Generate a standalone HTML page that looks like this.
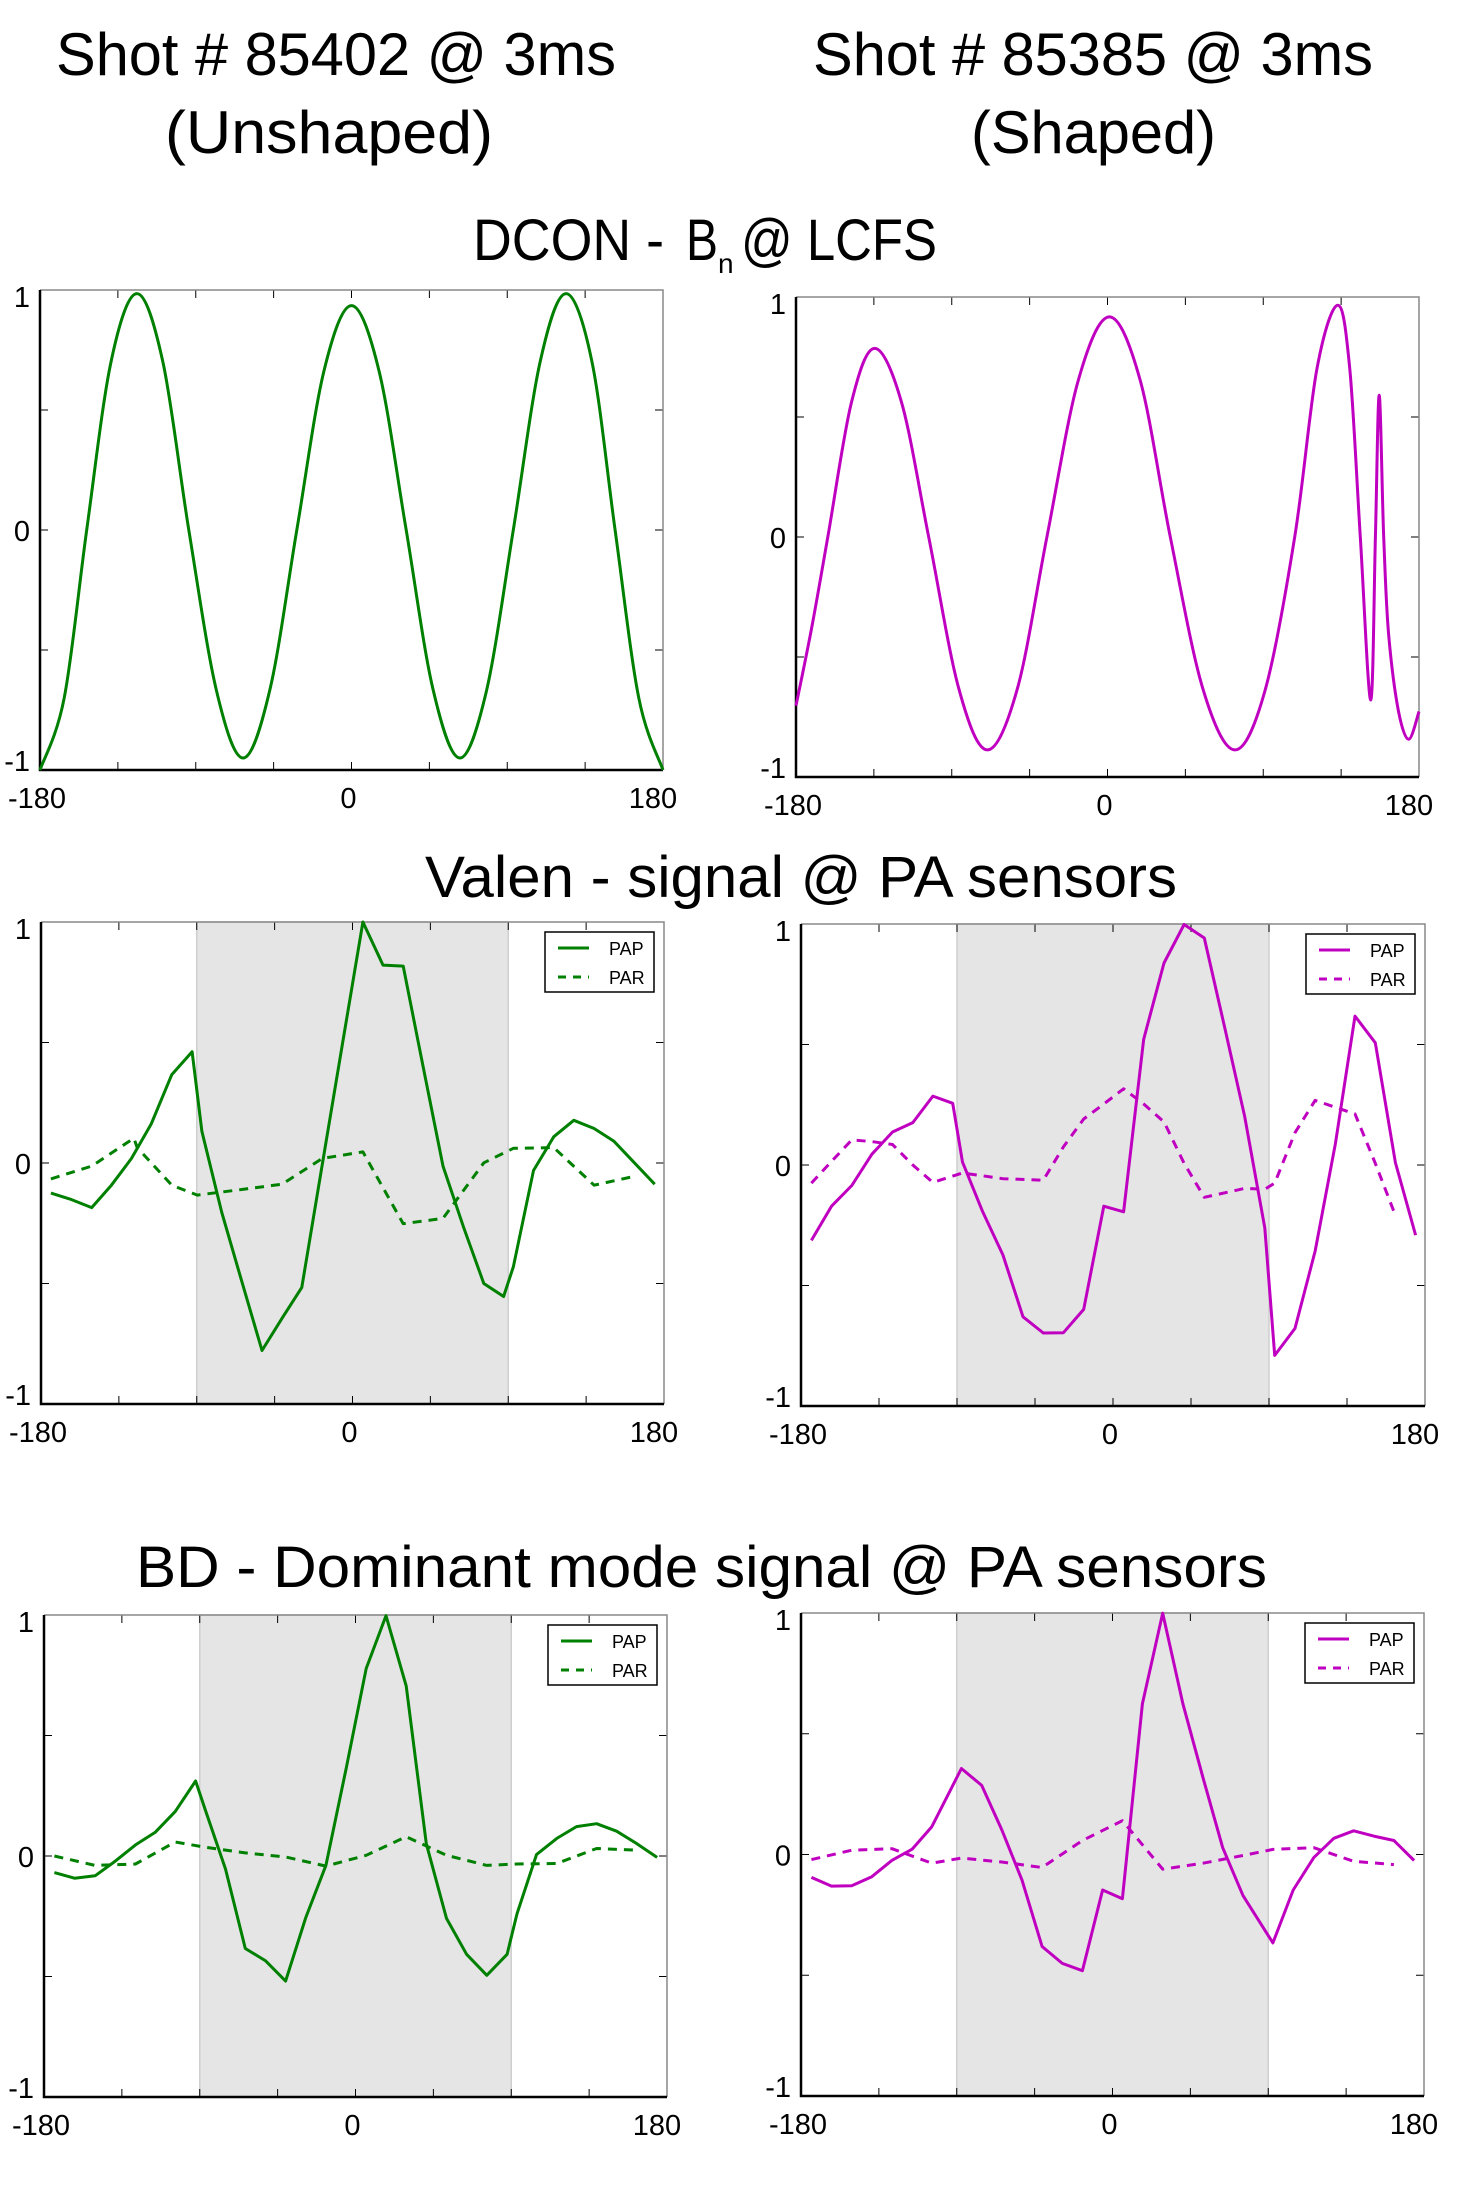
<!DOCTYPE html>
<html><head><meta charset="utf-8"><style>
html,body{margin:0;padding:0;background:#fff;}
svg{display:block;font-family:"Liberation Sans",sans-serif;}
</style></head><body>
<svg id="fig" width="1464" height="2188" viewBox="0 0 1464 2188" xmlns="http://www.w3.org/2000/svg">
<g fill="#000">
<text x="56" y="75" font-size="60" textLength="560" lengthAdjust="spacingAndGlyphs">Shot # 85402 @ 3ms</text>
<text x="165" y="153" font-size="60" textLength="328" lengthAdjust="spacingAndGlyphs">(Unshaped)</text>
<text x="813" y="75" font-size="60" textLength="560" lengthAdjust="spacingAndGlyphs">Shot # 85385 @ 3ms</text>
<text x="971" y="153" font-size="60" textLength="245" lengthAdjust="spacingAndGlyphs">(Shaped)</text>
<text x="473" y="260" font-size="58" textLength="191" lengthAdjust="spacingAndGlyphs">DCON -</text>
<text x="686" y="260" font-size="58" textLength="32" lengthAdjust="spacingAndGlyphs">B</text>
<text x="718" y="273" font-size="28">n</text>
<text x="741" y="260" font-size="58" textLength="196" lengthAdjust="spacingAndGlyphs">@ LCFS</text>
<text x="425" y="897" font-size="58" textLength="752" lengthAdjust="spacingAndGlyphs">Valen -  signal @ PA sensors</text>
<text x="136" y="1587" font-size="58" textLength="1131" lengthAdjust="spacingAndGlyphs">BD - Dominant mode signal @ PA sensors</text>
</g>
</svg>
<script>
// ---------- data ----------
const xTickLabels = ["-180","0","180"];
const yTickLabels = ["1","0","-1"];
const legendLabels = ["PAP","PAR"];

// DCON Bn @ LCFS, unshaped (green)
const dconUnshapedAngle = [-180,-166,-153,-139,-124,-109,-94,-78,-62.5,-47,-31.6,-16,0,16,31.6,47,62.5,78,93.5,109,124,139,152.3,166,180];
const dconUnshapedValue = [-1,-0.7,0,0.7,0.985,0.7,0,-0.67,-0.95,-0.66,0,0.66,0.935,0.66,0,-0.66,-0.95,-0.67,0,0.7,0.985,0.7,0,-0.7,-1];
// DCON Bn @ LCFS, shaped (magenta)
const dconShapedAngle = [-180,-171,-161.6,-148,-134.5,-119,-103.3,-86,-69.4,-52,-35,-17,1.1,19,36.3,55,73.5,91,108.2,121,133.1,140,146.1,152.1,154.8,157,159.6,162.4,168,174,180];
const dconShapedValue = [-0.703,-0.38,0,0.56,0.786,0.56,0,-0.63,-0.887,-0.63,0,0.65,0.917,0.65,0,-0.63,-0.887,-0.64,0,0.7,0.966,0.7,0,-0.679,0,0.591,0,-0.4,-0.72,-0.843,-0.727];

// Valen, unshaped
const valenUPapAngle = [-174.3,-162.4,-150.7,-139.3,-127.7,-116.3,-104.4,-92.7,-87,-75.6,-64,-52.3,-40.7,-29.3,-17.4,-5.7,6,17.6,29.3,40.7,52.3,64.2,75.9,87.3,93,104.6,116.3,127.9,139.6,151,162.9,174.6];
const valenUPapValue = [-0.125,-0.152,-0.185,-0.092,0.019,0.162,0.367,0.462,0.131,-0.204,-0.49,-0.778,-0.644,-0.516,-0.003,0.498,1.0,0.821,0.817,0.404,-0.013,-0.267,-0.5,-0.554,-0.43,-0.031,0.109,0.177,0.143,0.091,0.001,-0.088];
const valenUParAngle = [-174.3,-150.7,-126.3,-124.4,-104.4,-89.7,-64,-40.7,-17.4,6,29.3,52.3,75.9,93,116.3,139.6,162.9];
const valenUParValue = [-0.066,-0.013,0.103,0.064,-0.092,-0.133,-0.11,-0.088,0.019,0.046,-0.252,-0.23,0.001,0.061,0.064,-0.092,-0.055];
// Valen, shaped
const valenSPapAngle = [-174,-162.4,-150.7,-139.1,-127.2,-115.5,-103.9,-92.5,-86.8,-75.2,-63.5,-51.9,-40.2,-28.6,-16.9,-5.3,6.1,17.7,29.4,41,52.7,64.3,76,87.6,93.3,105,116.6,128.3,139.6,151.3,162.9,174.6];
const valenSPapValue = [-0.313,-0.171,-0.085,0.045,0.137,0.176,0.286,0.256,0.012,-0.194,-0.373,-0.63,-0.697,-0.696,-0.599,-0.171,-0.194,0.522,0.838,0.998,0.942,0.574,0.201,-0.261,-0.79,-0.678,-0.358,0.089,0.618,0.507,0.01,-0.291];
const valenSParAngle = [-174,-162.4,-150.7,-139.1,-127.2,-115.5,-103.9,-86.8,-75.2,-63.5,-40.2,-28.6,-16.9,-5.3,6.1,17.7,29.4,41,52.7,76,87.6,93.3,105,116.6,139.6,151.3,162.9];
const valenSParValue = [-0.075,0.015,0.104,0.097,0.085,0,-0.072,-0.033,-0.045,-0.057,-0.063,0.075,0.191,0.253,0.316,0.253,0.179,0.007,-0.134,-0.097,-0.101,-0.075,0.134,0.268,0.212,0.007,-0.209];

// BD dominant mode, unshaped
const bdUPapAngle = [-174,-162.4,-150.5,-138.8,-127.1,-115.8,-104.1,-92.4,-86.5,-75.1,-63.7,-52.1,-40.4,-28.7,-17.1,-5.4,6.2,17.6,29.3,40.9,52.6,64.2,75.9,87.6,93.3,104.6,116.3,127.7,139.3,150.9,162.6,174.3];
const bdUPapValue = [-0.069,-0.092,-0.082,-0.021,0.046,0.098,0.185,0.311,0.185,-0.054,-0.384,-0.434,-0.519,-0.255,-0.039,0.364,0.778,0.997,0.706,0.051,-0.259,-0.408,-0.495,-0.408,-0.24,0.006,0.073,0.122,0.134,0.103,0.051,-0.006];
const bdUParAngle = [-174,-150.5,-127.1,-104.1,-86.5,-63.7,-40.4,-17.1,6.2,29.3,52.6,75.9,93.3,116.3,139.3,162.6];
const bdUParValue = [0,-0.039,-0.033,0.058,0.036,0.013,-0.004,-0.042,0.003,0.08,0.003,-0.039,-0.033,-0.031,0.031,0.024];
// BD dominant mode, shaped
const bdSPapAngle = [-174,-162.4,-150.7,-139.1,-127.4,-115.8,-104.4,-87.3,-75.6,-64,-52.3,-40.7,-29,-17.4,-5.7,5.7,17.3,29,40.7,52.3,63.7,75.4,92.7,104.4,116.3,127.9,139.3,151,162.6,174.3];
const bdSPapValue = [-0.095,-0.131,-0.129,-0.092,-0.024,0.022,0.115,0.356,0.286,0.103,-0.106,-0.381,-0.451,-0.481,-0.147,-0.183,0.624,0.999,0.624,0.318,0.028,-0.17,-0.366,-0.147,-0.013,0.067,0.098,0.076,0.058,-0.025];
const bdSParAngle = [-174,-150.7,-127.4,-104.4,-87.3,-64,-40.7,-17.4,5.7,29,52.3,75.4,92.7,116.3,139.3,162.6];
const bdSParValue = [-0.021,0.018,0.024,-0.036,-0.015,-0.031,-0.054,0.058,0.14,-0.061,-0.036,-0.004,0.021,0.028,-0.028,-0.042];

const shadeRange = [-90, 90];

// ---------- drawing ----------
const NS = "http://www.w3.org/2000/svg";
const svg = document.getElementById("fig");
function mk(tag, attrs, parent){
  const e = document.createElementNS(NS, tag);
  for (const k in attrs) e.setAttribute(k, attrs[k]);
  (parent || svg).appendChild(e);
  return e;
}
function linePath(xs, ys, sx, sy){
  return xs.map((x,i)=>(i?"L":"M")+sx(x).toFixed(1)+","+sy(ys[i]).toFixed(1)).join(" ");
}
function smoothPath(xs, ys, sx, sy){
  const P = xs.map((x,i)=>[sx(x), sy(ys[i])]);
  let d = "M"+P[0][0].toFixed(1)+","+P[0][1].toFixed(1);
  for (let i=0;i<P.length-1;i++){
    const p0=P[Math.max(i-1,0)], p1=P[i], p2=P[i+1], p3=P[Math.min(i+2,P.length-1)];
    const c1=[p1[0]+(p2[0]-p0[0])/6, p1[1]+(p2[1]-p0[1])/6];
    const c2=[p2[0]-(p3[0]-p1[0])/6, p2[1]-(p3[1]-p1[1])/6];
    d += " C"+c1[0].toFixed(1)+","+c1[1].toFixed(1)+" "+c2[0].toFixed(1)+","+c2[1].toFixed(1)+" "+p2[0].toFixed(1)+","+p2[1].toFixed(1);
  }
  return d;
}

function drawPlot(cfg){
  const g = mk("g", {});
  
  
  const L=cfg.box[0], T=cfg.box[1], R=cfg.box[2], B=cfg.box[3];
  const sx = v => L + (v+180)/360*(R-L);
  const sy = v => T + (1-v)/2*(B-T);
  if (cfg.shade){
    const r = mk("rect", {x:sx(shadeRange[0]), y:T, width:sx(shadeRange[1])-sx(shadeRange[0]), height:B-T, fill:"#e5e5e5", stroke:"#cfcfcf", "stroke-width":1.5}, g);
    
    
  }
  for (let a=-135; a<=135; a+=45){
    mk("line",{x1:sx(a),x2:sx(a),y1:B,y2:B-8,stroke:"#000","stroke-width":1},g);
    mk("line",{x1:sx(a),x2:sx(a),y1:T,y2:T+8,stroke:"#000","stroke-width":1},g);
  }
  for (let v=-0.5; v<=0.5; v+=0.5){
    mk("line",{x1:L,x2:L+8,y1:sy(v),y2:sy(v),stroke:"#000","stroke-width":1},g);
    mk("line",{x1:R,x2:R-8,y1:sy(v),y2:sy(v),stroke:"#000","stroke-width":1},g);
  }
  mk("path",{d:`M${L},${T} L${R},${T} L${R},${B}`,fill:"none",stroke:"#888","stroke-width":1.5},g);
  mk("path",{d:`M${L},${T} L${L},${B} L${R},${B}`,fill:"none",stroke:"#000","stroke-width":2.5},g);
  const xv=[-180,0,180], xoff=[-3,-3,-10];
  xTickLabels.forEach((t,i)=>{
    const e = mk("text",{x:sx(xv[i])+xoff[i], y:B+38, "font-size":29, "text-anchor":"middle"},g);
    e.textContent=t;
    
    
  });
  const yv=[1,0,-1];
  yTickLabels.forEach((t,i)=>{
    const e = mk("text",{x:L-10, y:sy(yv[i])+11+(i===2?-10:0)+(i===0?6:0), "font-size":29, "text-anchor":"end"},g);
    e.textContent=t;
    
    
  });
  cfg.series.forEach(s=>{
    const d = s.smooth ? smoothPath(s.x,s.y,sx,sy) : linePath(s.x,s.y,sx,sy);
    const p = mk("path",{d:d,fill:"none",stroke:cfg.color,"stroke-width":3,"stroke-linejoin":"round"},g);
    if (s.dash) p.setAttribute("stroke-dasharray","9,7");
    
    
  });
  if (cfg.legend){
    const lg = mk("g",{},g);
    
    
    const lx=R-119, ly=T+10;
    mk("rect",{x:lx,y:ly,width:109,height:60,fill:"#fff",stroke:"#000","stroke-width":1.5},lg);
    legendLabels.forEach((t,i)=>{
      const yy = ly+16+i*29;
      const ln = mk("line",{x1:lx+13,x2:lx+44,y1:yy,y2:yy,stroke:cfg.color,"stroke-width":3},lg);
      if (i===1) ln.setAttribute("stroke-dasharray","8,7");
      
      
      const tx = mk("text",{x:lx+64,y:yy+7,"font-size":18},lg);
      tx.textContent=t;
      
      
    });
  }
}

const GREEN="#008000", MAG="#c000c0";
drawPlot({name:"dcon-unshaped-chart", box:[40,290,663,770], color:GREEN,
  series:[{name:"dcon-unshaped-line", x:dconUnshapedAngle, y:dconUnshapedValue, smooth:true}]});
drawPlot({name:"dcon-shaped-chart", box:[796,297,1419,777], color:MAG,
  series:[{name:"dcon-shaped-line", x:dconShapedAngle, y:dconShapedValue, smooth:true}]});
drawPlot({name:"valen-unshaped-chart", box:[41,922,664,1404], color:GREEN, shade:true, legend:true,
  series:[{name:"valen-unshaped-par", x:valenUParAngle, y:valenUParValue, dash:true},
          {name:"valen-unshaped-pap", x:valenUPapAngle, y:valenUPapValue}]});
drawPlot({name:"valen-shaped-chart", box:[801,924,1425,1406], color:MAG, shade:true, legend:true,
  series:[{name:"valen-shaped-par", x:valenSParAngle, y:valenSParValue, dash:true},
          {name:"valen-shaped-pap", x:valenSPapAngle, y:valenSPapValue}]});
drawPlot({name:"bd-unshaped-chart", box:[44,1615,667,2097], color:GREEN, shade:true, legend:true,
  series:[{name:"bd-unshaped-par", x:bdUParAngle, y:bdUParValue, dash:true},
          {name:"bd-unshaped-pap", x:bdUPapAngle, y:bdUPapValue}]});
drawPlot({name:"bd-shaped-chart", box:[801,1613,1424,2096], color:MAG, shade:true, legend:true,
  series:[{name:"bd-shaped-par", x:bdSParAngle, y:bdSParValue, dash:true},
          {name:"bd-shaped-pap", x:bdSPapAngle, y:bdSPapValue}]});
</script>
</body></html>
